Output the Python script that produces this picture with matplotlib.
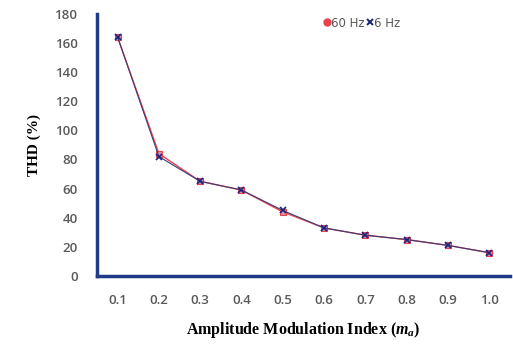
import numpy as np
import matplotlib.pyplot as plt

# data
ma_labels = ['0.1', '0.2', '0.3', '0.4', '0.5', '0.6', '0.7', '0.8', '0.9', '1.0']
thd_60hz = [164, 84, 65, 59, 44, 33, 28, 25, 21, 16]
thd_6hz = [164, 82, 65, 59, 45, 33, 28, 25, 21, 16]

navy = '#1f3c88'
red = '#e8424f'
grey = '#595959'

plt.rcParams['mathtext.fontset'] = 'custom'
plt.rcParams['mathtext.it'] = 'Liberation Serif:italic:bold'
plt.rcParams['mathtext.rm'] = 'Liberation Serif:bold'

fig = plt.figure(figsize=(5.13, 3.45), dpi=100)
ax = fig.add_axes([0.189, 0.2, 0.805, 0.76])

x = np.arange(len(ma_labels))
ax.plot(x, thd_60hz, color=red, lw=1.0, marker='s', ms=5,
        mfc='#d98fa0', mec=red, mew=0.8)
ax.plot(x, thd_6hz, color='#3b3b78', lw=0.8, marker='x', ms=4,
        mec='#1a237e', mew=1.2)
# legend handles (legend shows a circle for 60 Hz)
ax.plot([], [], ls='none', marker='o', ms=5, mfc=red, mec=red, label='60 Hz')
ax.plot([], [], ls='none', marker='x', ms=5, mec='#1a237e', mew=1.4, label='6 Hz')

ax.set_xlim(-0.5, len(ma_labels) - 0.5)
ax.set_ylim(0, 180)
ax.set_yticks(np.arange(0, 181, 20))
ax.set_xticks(x)
ax.set_xticklabels(ma_labels)

for side in ['top', 'right']:
    ax.spines[side].set_visible(False)
for side in ['left', 'bottom']:
    ax.spines[side].set_color(navy)
    ax.spines[side].set_linewidth(2.5)

ax.tick_params(axis='both', length=0, labelsize=9.5, labelcolor=grey)
ax.tick_params(axis='y', pad=14)
ax.tick_params(axis='x', pad=13)
for lbl in ax.get_xticklabels() + ax.get_yticklabels():
    lbl.set_family('Open Sans')
    lbl.set_fontweight('semibold')

ax.set_ylabel('THD (%)', family='Liberation Serif', fontweight='bold',
              fontsize=11, labelpad=10)
ax.set_xlabel(r'Amplitude Modulation Index ($\mathit{m_a}$)', family='Liberation Serif',
              fontweight='bold', fontsize=11.5, labelpad=9)

leg = ax.legend(loc='upper right', bbox_to_anchor=(0.76, 1.03), ncol=2, frameon=False,
                handlelength=0.4, handletextpad=0.1, columnspacing=0.3,
                fontsize=8.5, labelcolor=grey)

fig.savefig('out.png', dpi=100)
